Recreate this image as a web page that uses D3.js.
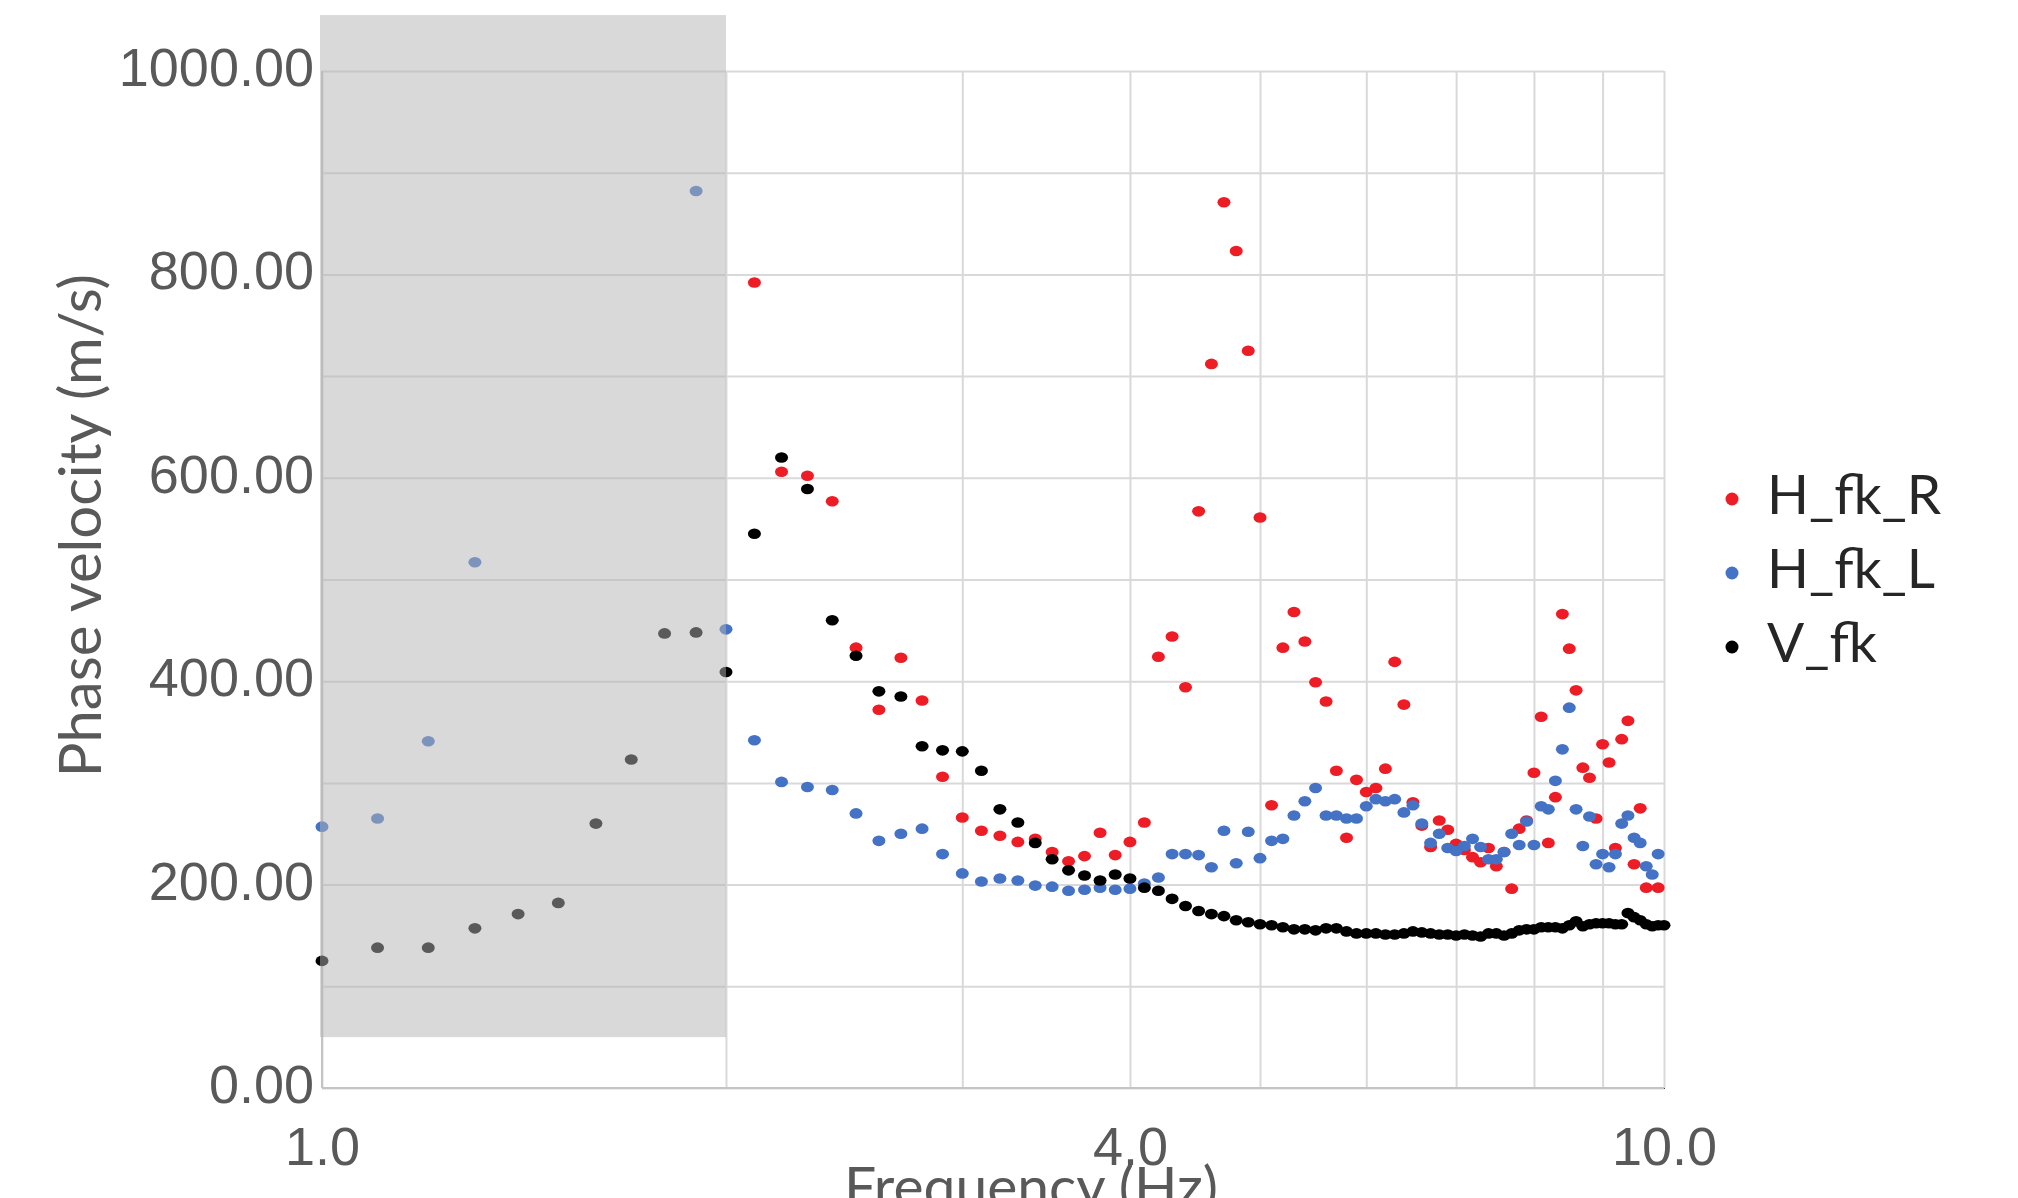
<!DOCTYPE html>
<html>
<head>
<meta charset="utf-8">
<script src="https://cdn.jsdelivr.net/npm/d3@7"></script>
<style>
  html, body { margin: 0; padding: 0; background: #fff; }
  svg { display: block; font-family: Lato, "Open Sans", sans-serif; }
  .axis path { display: none; }
  .grid line { stroke: #d9d9d9; stroke-width: 2; }
  .tick text { fill: #595959; font-size: 54px; }
</style>
</head>
<body>
<svg width="2018" height="1198"></svg>
<script>
  // frecuencias (Hz)
  var freq = [1.0, 1.1, 1.2, 1.3, 1.4, 1.5, 1.6, 1.7, 1.8, 1.9,
              2.0, 2.1, 2.2, 2.3, 2.4, 2.5, 2.6, 2.7, 2.8, 2.9,
              3.0, 3.1, 3.2, 3.3, 3.4, 3.5, 3.6, 3.7, 3.8, 3.9,
              4.0, 4.1, 4.2, 4.3, 4.4, 4.5, 4.6, 4.7, 4.8, 4.9,
              5.0, 5.1, 5.2, 5.3, 5.4, 5.5, 5.6, 5.7, 5.8, 5.9,
              6.0, 6.1, 6.2, 6.3, 6.4, 6.5, 6.6, 6.7, 6.8, 6.9,
              7.0, 7.1, 7.2, 7.3, 7.4, 7.5, 7.6, 7.7, 7.8, 7.9,
              8.0, 8.1, 8.2, 8.3, 8.4, 8.5, 8.6, 8.7, 8.8, 8.9,
              9.0, 9.1, 9.2, 9.3, 9.4, 9.5, 9.6, 9.7, 9.8, 9.9,
              10.0];

  // velocidad de fase (m/s), null = sin dato
  var hfkR = [null, null, null, null, null, null, null, null, null, null,
              null, 792, 606, 602, 577, 433, 372, 423, 381, 306,
              266, 253, 248, 242, 245, 232, 223, 228, 251, 229,
              242, 261, 424, 444, 394, 567, 712, 871, 823, 725,
              561, 278, 433, 468, 439, 399, 380, 312, 246, 303,
              291, 295, 314, 419, 377, 281, 258, 237, 263, 254,
              240, 234, 227, 222, 236, 218, 232, 196, 255, 263,
              310, 365, 241, 286, 466, 432, 391, 315, 305, 265,
              338, 320, 236, 343, 361, 220, 275, 197, null, 197,
              null];

  var hfkL = [257, 265, 341, 517, null, null, null, null, null, 882,
              451, 342, 301, 296, 293, 270, 243, 250, 255, 230,
              211, 203, 206, 204, 199, 198, 194, 195, 197, 195,
              196, 201, 207, 230, 230, 229, 217, 253, 221, 252,
              226, 243, 245, 268, 282, 295, 268, 268, 265, 265,
              277, 284, 282, 284, 271, 278, 260, 241, 250, 236,
              233, 238, 245, 237, 225, 225, 232, 250, 239, 262,
              239, 277, 274, 302, 333, 374, 274, 238, 267, 220,
              230, 217, 230, 260, 268, 246, 241, 218, 210, 230,
              null];

  var vfk = [125, 138, 138, 157, 171, 182, 260, 323, 447, 448,
             409, 545, 620, 589, 460, 425, 390, 385, 336, 332,
             331, 312, 274, 261, 241, 225, 214, 209, 204, 210,
             206, 197, 194, 186, 179, 174, 171, 169, 165, 163,
             161, 160, 158, 156, 156, 155, 157, 157, 154, 152,
             152, 152, 151, 151, 152, 154, 153, 152, 151, 151,
             150, 151, 150, 149, 152, 152, 150, 152, 155, 156,
             156, 158, 158, 158, 157, 160, 164, 159, 161, 162,
             162, 162, 161, 161, 172, 168, 165, 161, 159, 160,
             160];

  var seriesNames = ["H_fk_R", "H_fk_L", "V_fk"];
  var seriesColors = ["#ee1c24", "#4472c4", "#000000"];
  var xTicks = [1, 4, 10];
  var xGrid = [1, 2, 3, 4, 5, 6, 7, 8, 9, 10];
  var yTicks = [0, 200, 400, 600, 800, 1000];
  var yGrid = [0, 100, 200, 300, 400, 500, 600, 700, 800, 900, 1000];
  var shadeFreq = [1, 2];       // zona sombreada
  var shadeVel = [50, 1055];

  var svg = d3.select("svg"),
      margin = {top: 71, right: 354, bottom: 110, left: 322},
      width = +svg.attr("width") - margin.left - margin.right,
      height = +svg.attr("height") - margin.top - margin.bottom,
      g = svg.append("g").attr("transform", "translate(" + margin.left + "," + margin.top + ")");

  var x = d3.scaleLog()
      .domain([1, 10])
      .range([0, width]);

  var y = d3.scaleLinear()
      .domain([0, 1000])
      .range([height, 0]);

  // rejilla
  g.append("g")
      .attr("class", "grid")
      .call(d3.axisLeft(y).tickValues(yGrid).tickSize(-width).tickFormat(""));

  g.append("g")
      .attr("class", "grid")
      .attr("transform", "translate(0," + height + ")")
      .call(d3.axisBottom(x).tickValues(xGrid).tickSize(-height).tickFormat(""));

  // ejes
  g.append("line")
      .attr("x1", 0).attr("x2", width)
      .attr("y1", y(0)).attr("y2", y(0))
      .attr("stroke", "#c4c4c4").attr("stroke-width", 2);
  g.append("line")
      .attr("x1", x(1)).attr("x2", x(1))
      .attr("y1", y(0)).attr("y2", y(1000))
      .attr("stroke", "#c4c4c4").attr("stroke-width", 2);

  // puntos
  var allSeries = [hfkR, hfkL, vfk];
  allSeries.forEach(function(s, k) {
    var pts = freq.map(function(f, i) { return {f: f, v: s[i]}; })
        .filter(function(d) { return d.v != null; });
    g.append("g")
        .attr("fill", seriesColors[k])
      .selectAll("ellipse")
      .data(pts)
      .enter().append("ellipse")
        .attr("cx", function(d) { return x(d.f); })
        .attr("cy", function(d) { return y(d.v); })
        .attr("rx", 6.5)
        .attr("ry", 5.3);
  });

  // zona sombreada
  g.append("rect")
      .attr("x", x(shadeFreq[0]) - 2)
      .attr("y", y(shadeVel[1]))
      .attr("width", x(shadeFreq[1]) - x(shadeFreq[0]) + 2)
      .attr("height", y(shadeVel[0]) - y(shadeVel[1]))
      .attr("fill", "#b3b3b3")
      .attr("fill-opacity", 0.5);

  // etiquetas de los ejes
  var yAxis = g.append("g")
      .attr("class", "axis")
      .call(d3.axisLeft(y)
          .tickValues(yTicks)
          .tickFormat(d3.format(".2f"))
          .tickSize(0)
          .tickPadding(8));
  yAxis.selectAll("text").attr("dy", "0.27em");

  var xAxis = g.append("g")
      .attr("class", "axis")
      .attr("transform", "translate(0," + height + ")")
      .call(d3.axisBottom(x)
          .tickValues(xTicks)
          .tickFormat(d3.format(".1f"))
          .tickSize(0));
  xAxis.selectAll("text").attr("y", 77).attr("dy", 0);

  svg.append("text")
      .attr("transform", "translate(101," + (margin.top + y(553)) + ") rotate(-90)")
      .attr("text-anchor", "middle")
      .attr("fill", "#595959")
      .style("font-size", "58px")
      .text("Phase velocity (m/s)");

  svg.append("text")
      .attr("x", 1031)
      .attr("y", 1207)
      .attr("text-anchor", "middle")
      .attr("fill", "#595959")
      .style("font-size", "57px")
      .text("Frequency (Hz)");

  // leyenda
  var legend = svg.append("g")
      .attr("transform", "translate(1732,499)");

  var item = legend.selectAll("g")
    .data(seriesNames)
    .enter().append("g")
      .attr("transform", function(d, i) { return "translate(0," + (i * 74) + ")"; });

  item.append("circle")
      .attr("r", 6.5)
      .attr("fill", function(d, i) { return seriesColors[i]; });

  item.append("text")
      .attr("x", 35)
      .attr("y", 15)
      .attr("fill", "#262626")
      .style("font-size", "55px")
      .text(function(d) { return d; });
</script>
</body>
</html>
